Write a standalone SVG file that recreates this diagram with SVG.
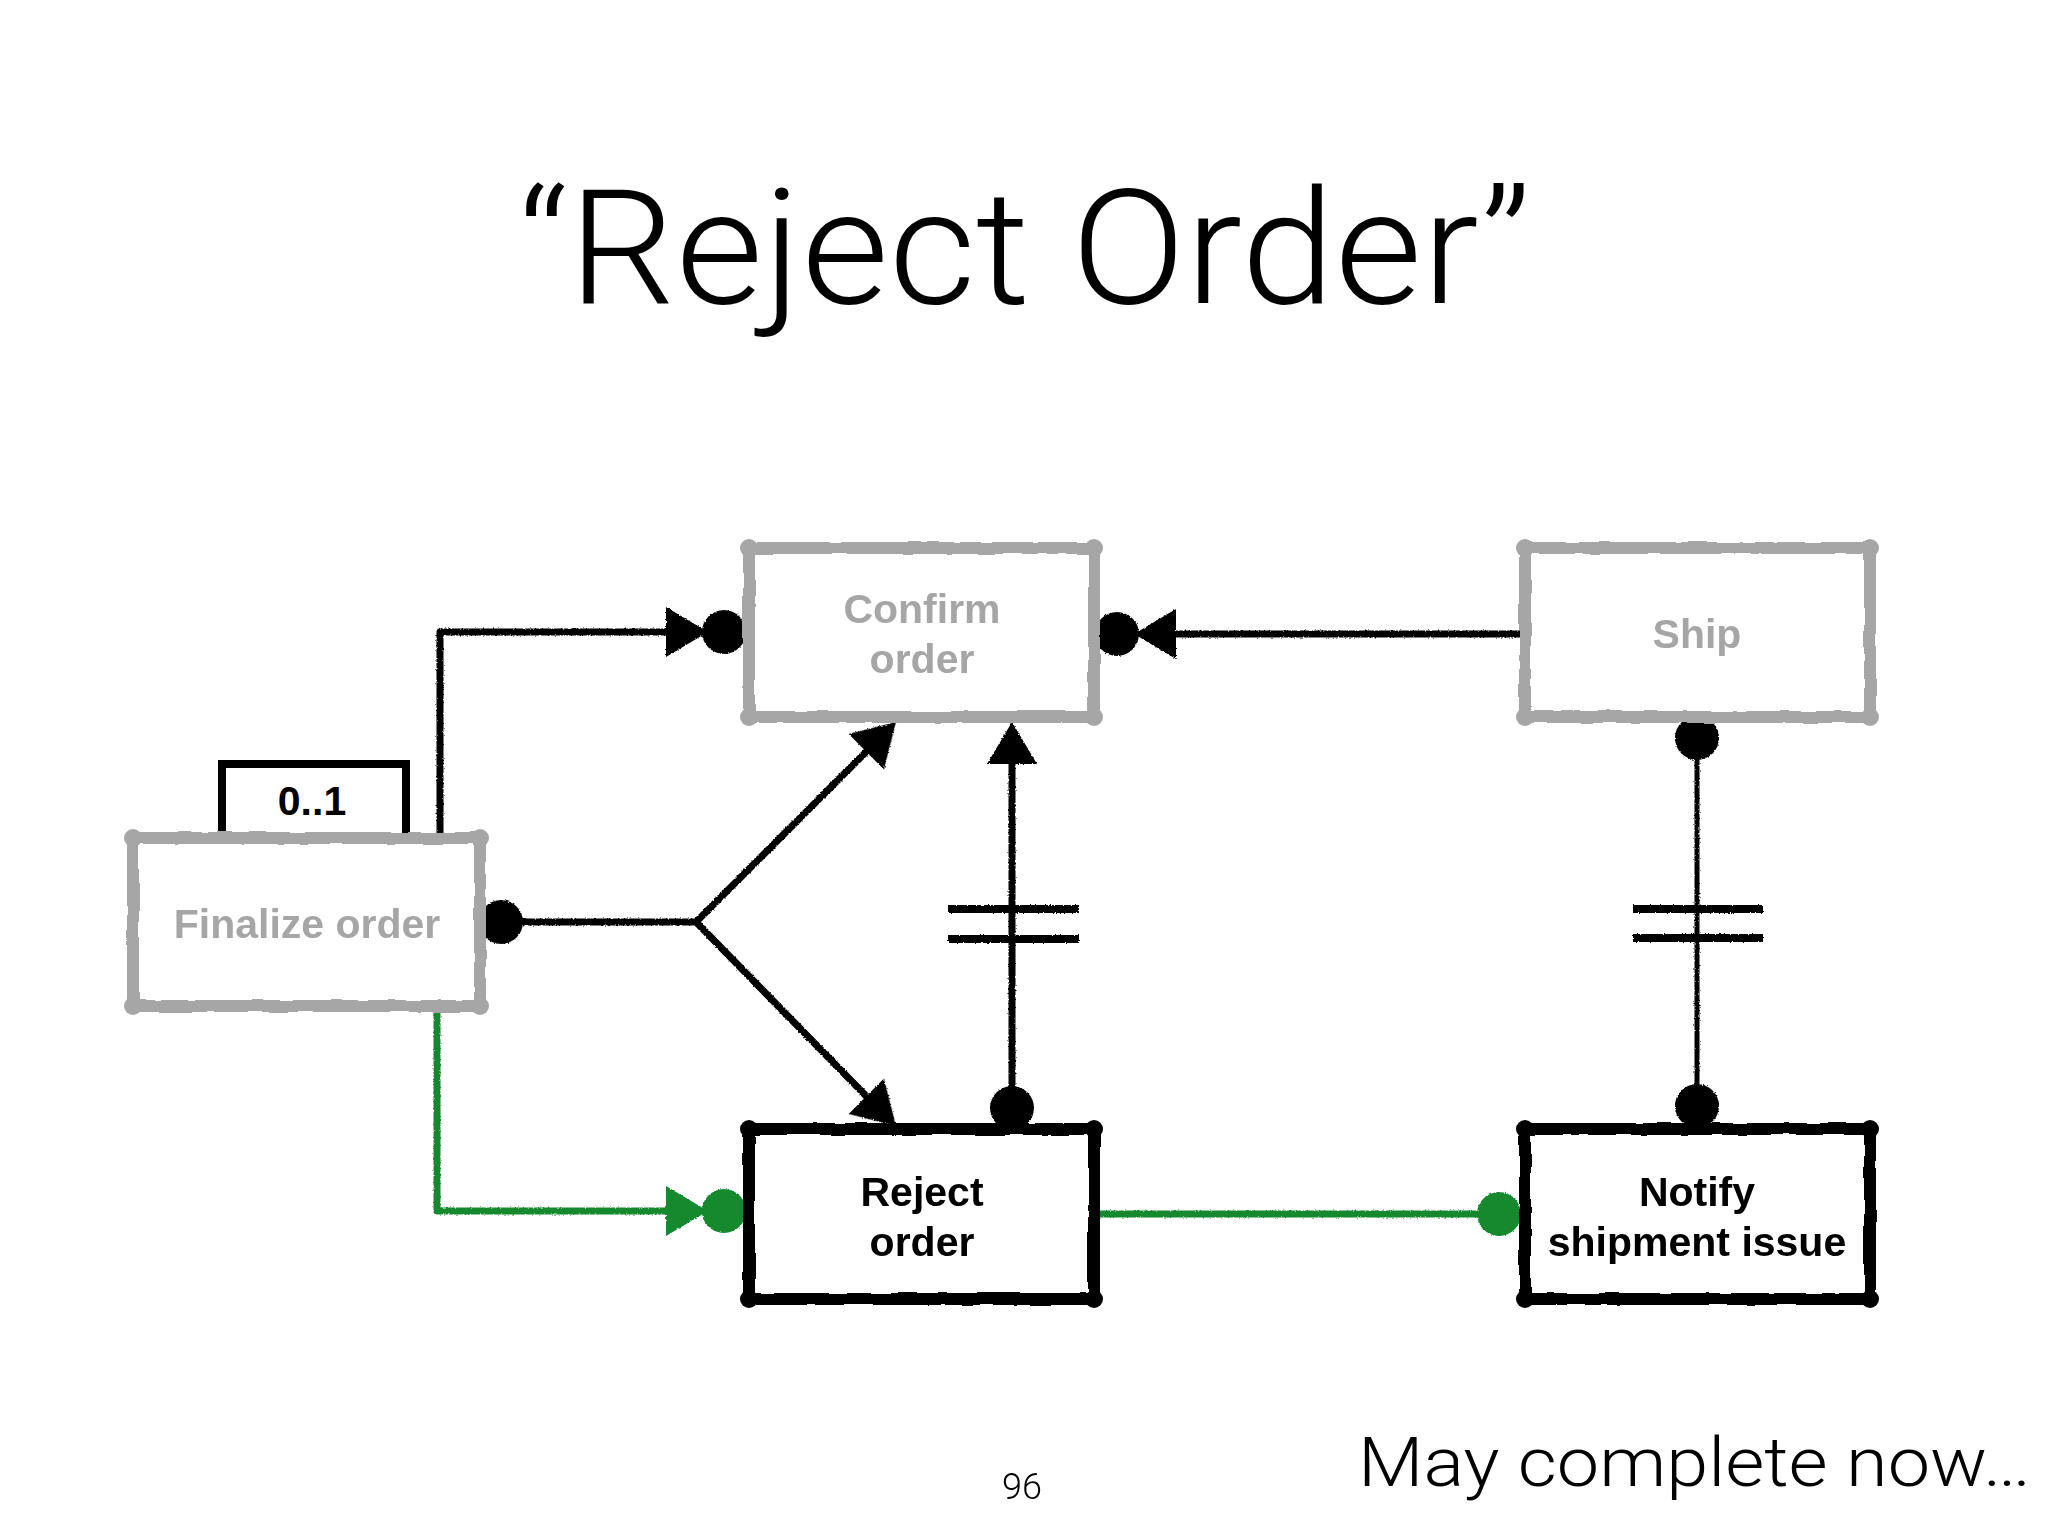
<svg xmlns="http://www.w3.org/2000/svg" xmlns:xlink="http://www.w3.org/1999/xlink" width="2048" height="1536" viewBox="0 0 2048 1536">
<defs>
<style>
.title{font-family:Roboto,"Liberation Sans",sans-serif;font-weight:300;fill:#000}
.lbl{font-family:"Liberation Sans",Arial,sans-serif;font-weight:bold;font-size:41px;text-anchor:middle}
.gtxt{fill:#a6a6a6}
.btxt{fill:#000}
.gbox{fill:#fff;stroke:#a6a6a6;stroke-width:12;stroke-linejoin:round}
.bbox{fill:#fff;stroke:#000;stroke-width:12;stroke-linejoin:round}
.gknob{fill:#a6a6a6}
.bknob{fill:#000}
.blk{fill:none;stroke:#000;stroke-width:7;stroke-linecap:round;stroke-linejoin:round}
.thin{fill:none;stroke:#000;stroke-width:5;stroke-linecap:round}
.bar{fill:none;stroke:#000;stroke-width:8}
.grn{fill:none;stroke:#12892f;stroke-width:7;stroke-linecap:round;stroke-linejoin:round}
</style>
<filter id="rough" x="-5%" y="-5%" width="110%" height="110%">
<feTurbulence type="fractalNoise" baseFrequency="0.04" numOctaves="2" seed="3" result="n"/>
<feDisplacementMap in="SourceGraphic" in2="n" scale="4" xChannelSelector="R" yChannelSelector="G"/>
</filter>
<filter id="sketch" x="-2%" y="-2%" width="104%" height="104%">
<feTurbulence type="fractalNoise" baseFrequency="0.6" numOctaves="1" seed="7" result="n"/>
<feDisplacementMap in="SourceGraphic" in2="n" scale="3" xChannelSelector="R" yChannelSelector="G"/>
</filter>
<circle id="dot" r="22"/>
<path id="tri" d="M0,0 L-42,-25 L-42,25 Z"/>
</defs>
<rect width="2048" height="1536" fill="#fff"/>

<text class="title" x="518" y="303" font-size="160" textLength="1013" lengthAdjust="spacingAndGlyphs">“Reject Order”</text>

<g id="connectors" filter="url(#sketch)">
<g id="c-finalize-confirm" fill="#000">
<path class="blk" d="M440 838 V632 H672"/>
<use xlink:href="#tri" transform="translate(708,632)"/>
<use xlink:href="#dot" x="724" y="632"/>
</g>
<g id="c-ship-confirm" fill="#000">
<path class="blk" d="M1525 634 H1172"/>
<use xlink:href="#tri" transform="translate(1134,634) rotate(180)"/>
<use xlink:href="#dot" x="1117" y="634"/>
</g>
<g id="c-finalize-fork" fill="#000">
<use xlink:href="#dot" x="501" y="922"/>
<path class="blk" d="M522 922 H696 L870 748 M696 922 L870 1100"/>
<use xlink:href="#tri" transform="translate(896,722) rotate(-45)"/>
<use xlink:href="#tri" transform="translate(896,1126) rotate(45)"/>
</g>
<g id="c-reject-confirm" fill="#000">
<path class="blk" d="M1012 1110 V758"/>
<use xlink:href="#tri" transform="translate(1012,722) rotate(-90)"/>
<use xlink:href="#dot" x="1012" y="1108"/>
<path class="bar" d="M948 909 H1079 M948 939 H1079"/>
</g>
<g id="c-ship-notify" fill="#000">
<path class="thin" d="M1697 738 V1107"/>
<use xlink:href="#dot" x="1697" y="738"/>
<use xlink:href="#dot" x="1697" y="1106"/>
<path class="bar" d="M1633 909 H1763 M1633 938 H1763"/>
</g>
<g id="c-finalize-reject" fill="#12892f">
<path class="grn" d="M437 1012 V1211 H672"/>
<use xlink:href="#tri" transform="translate(708,1211)"/>
<use xlink:href="#dot" x="724" y="1211"/>
</g>
<g id="c-reject-notify" fill="#12892f">
<path class="grn" d="M1097 1214 H1480"/>
<use xlink:href="#dot" x="1499" y="1214"/>
</g>
</g>

<g id="multiplicity">
<rect x="222" y="764" width="184" height="80" fill="#fff" stroke="#000" stroke-width="8"/>
<text class="lbl btxt" x="312" y="815">0..1</text>
</g>

<g id="node-finalize">
<rect class="gbox" x="133" y="838" width="347" height="168" filter="url(#rough)"/>
<g class="gknob"><circle cx="133" cy="838" r="9"/><circle cx="480" cy="838" r="9"/><circle cx="133" cy="1006" r="9"/><circle cx="480" cy="1006" r="9"/></g>
<text class="lbl gtxt" x="307" y="938">Finalize order</text>
</g>

<g id="node-confirm">
<rect class="gbox" x="749" y="548" width="345" height="169" filter="url(#rough)"/>
<g class="gknob"><circle cx="749" cy="548" r="9"/><circle cx="1094" cy="548" r="9"/><circle cx="749" cy="717" r="9"/><circle cx="1094" cy="717" r="9"/></g>
<text class="lbl gtxt" x="922" y="623">Confirm</text>
<text class="lbl gtxt" x="922" y="673">order</text>
</g>

<g id="node-ship">
<rect class="gbox" x="1525" y="548" width="345" height="169" filter="url(#rough)"/>
<g class="gknob"><circle cx="1525" cy="548" r="9"/><circle cx="1870" cy="548" r="9"/><circle cx="1525" cy="717" r="9"/><circle cx="1870" cy="717" r="9"/></g>
<text class="lbl gtxt" x="1697" y="648">Ship</text>
</g>

<g id="node-reject">
<rect class="bbox" x="749" y="1129" width="345" height="170" filter="url(#rough)"/>
<g class="bknob"><circle cx="749" cy="1129" r="9"/><circle cx="1094" cy="1129" r="9"/><circle cx="749" cy="1299" r="9"/><circle cx="1094" cy="1299" r="9"/></g>
<text class="lbl btxt" x="922" y="1206">Reject</text>
<text class="lbl btxt" x="922" y="1256">order</text>
</g>

<g id="node-notify">
<rect class="bbox" x="1525" y="1129" width="345" height="170" filter="url(#rough)"/>
<g class="bknob"><circle cx="1525" cy="1129" r="9"/><circle cx="1870" cy="1129" r="9"/><circle cx="1525" cy="1299" r="9"/><circle cx="1870" cy="1299" r="9"/></g>
<text class="lbl btxt" x="1697" y="1206">Notify</text>
<text class="lbl btxt" x="1697" y="1256">shipment issue</text>
</g>

<text class="title" x="1022" y="1499" font-size="36" text-anchor="middle">96</text>
<text class="title" x="1358" y="1486" font-size="68" textLength="673" lengthAdjust="spacingAndGlyphs">May complete now…</text>
</svg>
